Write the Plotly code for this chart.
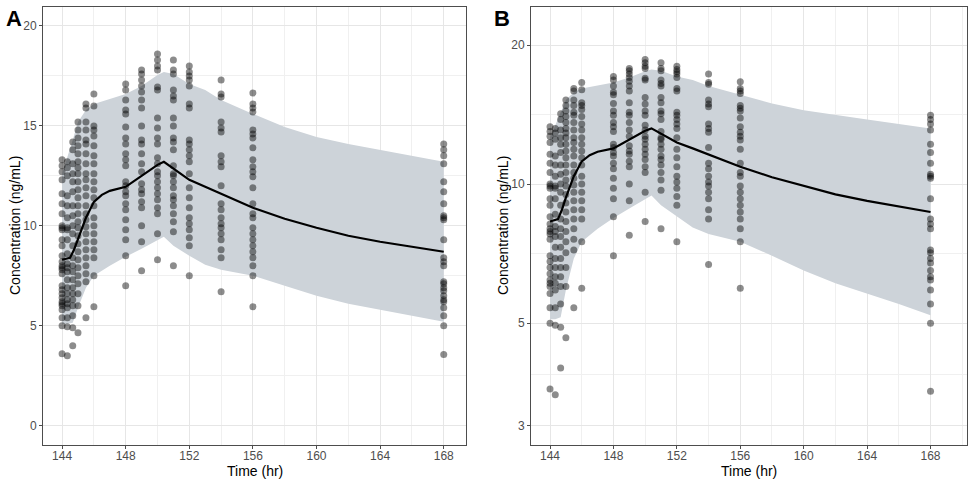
import plotly.graph_objects as go

# ---------------- data ----------------
obs_times = [144, 144.33, 144.67, 145, 145.5, 146, 148, 149, 150, 151, 152, 154, 156, 168]

c144 = [13.3, 13.0, 12.7, 12.3, 11.6, 11.1, 10.6, 10.0, 9.9, 9.8, 9.3, 9.0, 8.5, 8.2, 8.0, 7.9, 7.8, 7.6,
        7.0, 6.8, 6.6, 6.4, 6.2, 6.1, 6.0, 5.8, 5.4, 5.0, 3.6]
c144_33 = [13.2, 12.9, 12.5, 11.5, 11.0, 10.4, 9.9, 9.8, 9.3, 8.6, 8.1, 7.9, 7.7, 7.3, 6.9, 6.6, 6.3, 6.1,
           5.9, 5.4, 4.95, 3.5]
c144_67 = [14.2, 13.8, 13.1, 12.6, 12.2, 11.7, 11.0, 10.5, 10.0, 9.6, 9.0, 8.4, 8.0, 7.7, 7.3, 6.9, 6.6,
           6.3, 6.0, 5.5, 4.9, 4.0]
c145 = [15.2, 14.8, 14.4, 14.0, 13.6, 13.2, 12.9, 12.6, 12.2, 11.8, 11.4, 11.0, 10.6, 10.2, 9.9, 9.5, 9.1,
        8.7, 8.3, 7.9, 7.5, 7.1, 6.6, 6.0, 4.65]
c145_5 = [16.1, 15.9, 15.2, 14.8, 14.3, 14.1, 13.6, 13.1, 12.6, 12.3, 11.9, 11.5, 11.0, 10.6, 10.3, 9.95,
          9.6, 9.2, 8.8, 8.4, 8.0, 7.6, 7.2, 5.4]
c146 = [16.6, 16.0, 15.0, 14.8, 14.5, 14.0, 13.5, 13.1, 12.6, 12.2, 11.8, 11.4, 11.0, 10.4, 10.0, 9.6, 9.2,
        8.8, 8.4, 7.5, 5.95]
c148 = [17.1, 16.8, 16.3, 15.8, 15.6, 14.95, 14.4, 14.1, 13.6, 13.3, 13.0, 12.2, 12.0, 11.7, 11.5, 11.1,
        10.8, 10.3, 9.8, 9.3, 8.5, 7.0]
c149 = [17.8, 17.6, 17.3, 17.0, 16.7, 16.3, 15.9, 15.0, 14.3, 14.1, 13.6, 13.1, 12.7, 12.1, 11.8, 11.6,
        11.2, 10.9, 10.0, 9.2, 7.75]
c150 = [18.6, 18.3, 18.0, 17.8, 16.95, 16.8, 15.4, 14.9, 14.4, 14.1, 13.4, 13.1, 12.7, 12.5, 12.2, 11.9,
        11.6, 11.3, 10.9, 10.6, 9.6, 8.3]
c151 = [18.3, 17.8, 17.6, 16.8, 16.5, 16.3, 15.4, 15.0, 14.4, 14.2, 13.8, 13.0, 12.6, 12.5, 12.2, 11.9,
        11.5, 11.3, 11.0, 10.6, 10.2, 9.7, 8.0]
c152 = [18.0, 17.7, 17.5, 17.3, 17.0, 16.1, 15.9, 14.3, 14.1, 13.8, 13.5, 13.2, 12.6, 11.9, 11.4, 10.9,
        10.4, 10.1, 9.8, 9.4, 9.0, 7.5]
c154 = [17.3, 16.6, 16.45, 15.2, 14.9, 14.7, 13.5, 13.2, 12.95, 12.0, 11.1, 10.8, 10.4, 10.1, 9.9, 9.6,
        9.3, 8.8, 8.4, 6.7]
c156 = [16.65, 16.1, 15.9, 15.7, 14.8, 14.6, 14.4, 13.9, 13.3, 12.95, 12.7, 12.45, 11.9, 11.1, 10.6, 10.4,
        9.9, 9.6, 9.3, 9.0, 8.7, 8.4, 8.0, 7.5, 5.95]
c168 = [14.1, 13.8, 13.5, 13.1, 12.2, 11.7, 11.1, 10.5, 10.4, 10.3, 9.3, 8.4, 8.2, 8.0, 7.2, 7.1, 6.9,
        6.75, 6.5, 6.3, 6.2, 5.9, 5.5, 5.0, 3.56]

obs_columns = [c144, c144_33, c144_67, c145, c145_5, c146, c148, c149, c150, c151, c152, c154, c156, c168]

band_time = [144, 144.33, 144.67, 145, 145.5, 146, 147, 148, 149, 150, 150.4, 151, 152, 153, 154, 155,
             156, 158, 160, 162, 164, 166, 168]
band_upper = [12.6, 13.4, 14.3, 15.2, 15.8, 16.1, 16.35, 16.6, 17.0, 17.55, 17.7, 17.6, 17.1, 16.8, 16.3,
              15.95, 15.6, 14.95, 14.45, 14.1, 13.8, 13.5, 13.2]
band_lower = [5.1, 5.1, 5.15, 5.9, 6.9, 7.5, 8.0, 8.45, 8.85, 9.3, 9.45, 9.0, 8.5, 8.05, 7.8, 7.65, 7.5,
              7.0, 6.5, 6.1, 5.8, 5.5, 5.2]

med_time = [144, 144.33, 144.5, 144.75, 145, 145.5, 146, 146.5, 147, 148, 149, 150, 150.4, 151, 152, 153,
            154, 155, 156, 158, 160, 162, 164, 166, 168]
med_conc = [8.3, 8.35, 8.4, 8.8, 9.35, 10.4, 11.2, 11.55, 11.75, 11.95, 12.5, 13.05, 13.2, 12.85, 12.3,
            11.95, 11.6, 11.25, 10.9, 10.35, 9.9, 9.5, 9.2, 8.95, 8.7]

x_ticks = [144, 148, 152, 156, 160, 164, 168]
x_minor = [146, 150, 154, 158, 162, 166, 170]
yA_ticks = [0, 5, 10, 15, 20]
yA_minor = [2.5, 7.5, 12.5, 17.5]
yB_ticks = [3, 5, 10, 20]
yB_minor = [3.873, 7.071, 14.142]

# ---------------- build ----------------
pt_x, pt_y = [], []
for t, col in zip(obs_times, obs_columns):
    pt_x += [t] * len(col)
    pt_y += col

RIBBON = "#cdd3d9"
FONT = "Liberation Sans, Arial, sans-serif"
GRID = "#e6e6e6"
MINOR = "#f0f0f0"
BORDER = "#4d4d4d"

fig = go.Figure()
for xa, ya in (("x", "y"), ("x2", "y2")):
    fig.add_trace(go.Scatter(x=band_time, y=band_upper, mode="lines", line=dict(width=0),
                             xaxis=xa, yaxis=ya, showlegend=False, hoverinfo="skip"))
    fig.add_trace(go.Scatter(x=band_time, y=band_lower, mode="lines", line=dict(width=0),
                             fill="tonexty", fillcolor=RIBBON,
                             xaxis=xa, yaxis=ya, showlegend=False, hoverinfo="skip"))
    fig.add_trace(go.Scatter(x=pt_x, y=pt_y, mode="markers",
                             marker=dict(size=7, color="rgba(0,0,0,0.45)", line=dict(width=0)),
                             xaxis=xa, yaxis=ya, showlegend=False))
    fig.add_trace(go.Scatter(x=med_time, y=med_conc, mode="lines",
                             line=dict(color="black", width=2.2),
                             xaxis=xa, yaxis=ya, showlegend=False))

W, H = 972, 480
def px_x(p): return p / W
def px_y(p): return (H - p) / H

common_x = dict(tickmode="array", tickvals=x_ticks, ticktext=[str(v) for v in x_ticks],
                showgrid=True, gridcolor=GRID, gridwidth=1, zeroline=False,
                showline=True, linecolor=BORDER, linewidth=1, mirror=True,
                ticks="outside", ticklen=3, tickcolor=BORDER, ticklabelstandoff=-3,
                tickfont=dict(family=FONT, size=12, color="#4d4d4d"),
                minor=dict(tickmode="array", tickvals=x_minor, showgrid=True,
                           gridcolor=MINOR, gridwidth=0.6, ticks=""))
common_y = dict(showgrid=True, gridcolor=GRID, gridwidth=1, zeroline=False,
                showline=True, linecolor=BORDER, linewidth=1, mirror=True,
                ticks="outside", ticklen=3, tickcolor=BORDER,
                tickfont=dict(family=FONT, size=12, color="#4d4d4d"))

ydom = [px_y(445), px_y(7)]

fig.update_layout(
    width=W, height=H,
    margin=dict(l=0, r=0, t=0, b=0),
    paper_bgcolor="white", plot_bgcolor="white",
    font=dict(family=FONT),
    xaxis=dict(domain=[px_x(43), px_x(466)], range=[142.8, 169.4], anchor="y", **common_x),
    yaxis=dict(domain=ydom, range=[-0.97, 20.95], anchor="x",
               tickmode="array", tickvals=yA_ticks, ticktext=[str(v) for v in yA_ticks],
               minor=dict(tickmode="array", tickvals=yA_minor, showgrid=True,
                          gridcolor=MINOR, gridwidth=0.6, ticks=""),
               **common_y),
    xaxis2=dict(domain=[px_x(531), px_x(967)], range=[142.8, 170.3], anchor="y2", **common_x),
    yaxis2=dict(domain=ydom, type="log", range=[0.4353, 1.3833], anchor="x2",
                tickmode="array", tickvals=yB_ticks, ticktext=[str(v) for v in yB_ticks],
                minor=dict(tickmode="array", tickvals=yB_minor, showgrid=True,
                           gridcolor=MINOR, gridwidth=0.6, ticks=""),
                **common_y),
    annotations=[
        dict(text="<b>A</b>", x=px_x(4), y=px_y(4), xref="paper", yref="paper",
             xanchor="left", yanchor="top", showarrow=False,
             font=dict(family=FONT, size=22, color="black")),
        dict(text="<b>B</b>", x=px_x(492), y=px_y(4), xref="paper", yref="paper",
             xanchor="left", yanchor="top", showarrow=False,
             font=dict(family=FONT, size=22, color="black")),
        dict(text="Time (hr)", x=px_x(254.5), y=px_y(471), xref="paper", yref="paper",
             xanchor="center", yanchor="middle", showarrow=False,
             font=dict(family=FONT, size=14, color="black")),
        dict(text="Time (hr)", x=px_x(749), y=px_y(471), xref="paper", yref="paper",
             xanchor="center", yanchor="middle", showarrow=False,
             font=dict(family=FONT, size=14, color="black")),
        dict(text="Concentration (ng/mL)", x=px_x(15), y=px_y(226), xref="paper", yref="paper",
             xanchor="center", yanchor="middle", showarrow=False, textangle=-90,
             font=dict(family=FONT, size=14, color="black")),
        dict(text="Concentration (ng/mL)", x=px_x(503), y=px_y(226), xref="paper", yref="paper",
             xanchor="center", yanchor="middle", showarrow=False, textangle=-90,
             font=dict(family=FONT, size=14, color="black")),
    ],
)

fig.write_html("out.html")
